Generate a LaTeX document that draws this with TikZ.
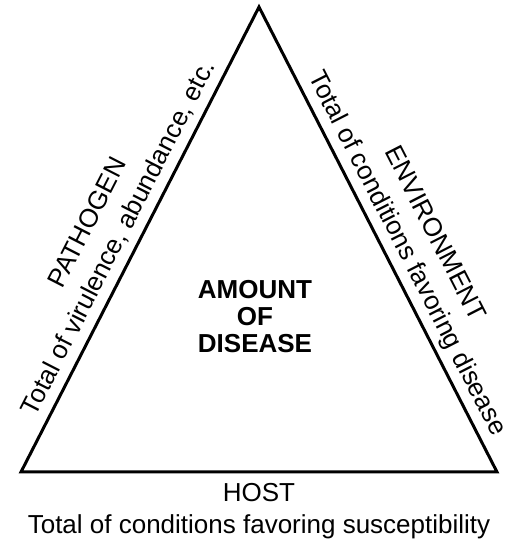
\documentclass[tikz,border=0pt]{standalone}
\usepackage{fontspec}
\setmainfont{Liberation Sans}
\usetikzlibrary{calc}
\begin{document}
\begin{tikzpicture}[x=1pt,y=1pt,
  edge/.style={line width=3pt, line join=miter},
  lbl/.style={font=\fontsize{26}{30}\selectfont, inner sep=0pt, anchor=base},
  centre/.style={font=\fontsize{26}{27}\selectfont\bfseries, align=center, inner sep=0pt}]
\useasboundingbox (0,0) rectangle (509,545);
\coordinate (A) at (259,538);
\coordinate (L) at (21,73);
\coordinate (R) at (497,73);
\draw[edge] (A) -- (R) -- (L) -- cycle;
% left side labels
\node[lbl, rotate=62.9] (pathsub) at (125.5,303.5) {Total of virulence, abundance, etc.};
\node[lbl, rotate=62.9] (path) at (95.0,318.5) {PATHOGEN};
% right side labels
\node[lbl, rotate=-62.9] (envsub) at (400.5,288.0) {Total of conditions favoring disease};
\node[lbl, rotate=-62.9] (env) at (428.0,308.0) {ENVIRONMENT};
% bottom labels
\node[lbl] (host) at (259,43) {HOST};
\node[lbl] (hostsub) at (259,12) {Total of conditions favoring susceptibility};
% centre
\node[centre] (amount) at (255,228) {AMOUNT\\OF\\DISEASE};
\end{tikzpicture}
\end{document}
